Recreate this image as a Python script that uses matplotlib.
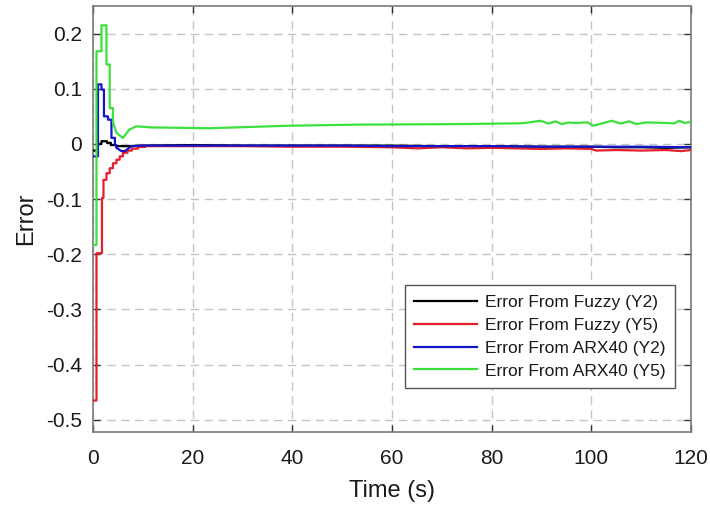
import matplotlib
matplotlib.use("Agg")
import matplotlib.pyplot as plt

plt.rcParams['font.family'] = ['Liberation Sans', 'DejaVu Sans']
plt.rcParams['axes.unicode_minus'] = False

# Error traces; repeated time stamps mark the sampled (stepwise) transitions
t_fuzzy_y2 = [0, 0.9, 0.9, 1.7, 1.7, 2.8, 2.8, 3.6, 3.6, 4.6, 4.6, 7, 10, 20, 30, 40,
              50, 60, 70, 80, 90, 100, 105, 110, 115, 120]
e_fuzzy_y2 = [-0.012, -0.012, 0.0, 0.0, 0.005, 0.005, 0.002, 0.002, -0.002, -0.002,
              -0.004, -0.004, -0.003, -0.002, -0.003, -0.003, -0.003, -0.003, -0.004,
              -0.004, -0.005, -0.005, -0.006, -0.006, -0.007, -0.006]

t_fuzzy_y5 = [0, 0.7, 0.7, 1.8, 1.8, 2.1, 2.1, 2.7, 2.7, 3.35, 3.35, 4.0, 4.0, 4.7, 4.7,
              5.35, 5.35, 6.0, 6.0, 6.9, 6.9, 7.8, 7.8, 9.0, 9.0, 10.4, 10.4, 20, 30, 40,
              50, 60, 65, 70, 75, 80, 85, 90, 95, 100, 101, 105, 110, 115, 118, 120]
e_fuzzy_y5 = [-0.465, -0.465, -0.198, -0.198, -0.098, -0.098, -0.065, -0.065, -0.053,
              -0.053, -0.044, -0.044, -0.035, -0.035, -0.0285, -0.0285, -0.0225, -0.0225,
              -0.016, -0.016, -0.012, -0.012, -0.0085, -0.0085, -0.0055, -0.0055, -0.004,
              -0.004, -0.004, -0.005, -0.005, -0.006, -0.008, -0.006, -0.008, -0.007,
              -0.008, -0.009, -0.008, -0.009, -0.012, -0.011, -0.012, -0.011, -0.013,
              -0.011]

t_arx_y2 = [0, 1.0, 1.0, 1.7, 1.7, 2.2, 2.2, 3.0, 3.0, 3.7, 3.7, 4.4, 4.4, 4.7, 4.7,
            5.7, 6.4, 7.7, 10, 20, 30, 40, 50, 60, 70, 80, 90, 100, 110, 120]
e_arx_y2 = [-0.0225, -0.0225, 0.108, 0.108, 0.0985, 0.0985, 0.050, 0.050, 0.044, 0.044,
            0.011, 0.011, -0.002, -0.002, -0.007, -0.013, -0.013, -0.004, -0.003,
            -0.003, -0.003, -0.003, -0.003, -0.004, -0.004, -0.004, -0.005, -0.005,
            -0.005, -0.006]

t_arx_y5 = [0, 0.7, 0.7, 1.7, 1.7, 2.7, 2.7, 3.35, 3.35, 4.0, 4.0, 4.7, 6.0, 7.3, 8.7,
            11.6, 23.3, 39.2, 53, 73.7, 86.2, 89.8, 91.4, 92.8, 94.1, 95.5, 96.5, 99.3,
            100.4, 104.1, 105.9, 107.6, 109, 111, 115.2, 116.6, 117.6, 118.7, 120]
e_arx_y5 = [-0.183, -0.183, 0.168, 0.168, 0.215, 0.215, 0.144, 0.144, 0.065, 0.065,
            0.040, 0.020, 0.011, 0.026, 0.032, 0.030, 0.0285, 0.033, 0.035, 0.036,
            0.0375, 0.042, 0.037, 0.041, 0.036, 0.039, 0.038, 0.039, 0.033, 0.042,
            0.037, 0.041, 0.036, 0.039, 0.038, 0.037, 0.042, 0.038, 0.040]

series = [
    (t_fuzzy_y2, e_fuzzy_y2, '#000000', 'Error From Fuzzy (Y2)'),
    (t_fuzzy_y5, e_fuzzy_y5, '#e3202c', 'Error From Fuzzy (Y5)'),
    (t_arx_y2, e_arx_y2, '#1414c8', 'Error From ARX40 (Y2)'),
    (t_arx_y5, e_arx_y5, '#3ce03c', 'Error From ARX40 (Y5)'),
]

x_ticks = [0, 20, 40, 60, 80, 100, 120]
y_ticks = [0.2, 0.1, 0, -0.1, -0.2, -0.3, -0.4, -0.5]
y_tick_labels = ['0.2', '0.1', '0', '-0.1', '-0.2', '-0.3', '-0.4', '-0.5']

fig = plt.figure(figsize=(7.1, 5.08), dpi=100)
ax = fig.add_axes([93 / 710, 1 - 432 / 508, 598 / 710, 426 / 508])

for t, e, c, lab in series:
    ax.plot(t, e, color=c, lw=1.6, label=lab, zorder=3)

ax.set_xlim(0, 120)
ax.set_ylim(-0.522, 0.25)
ax.set_xticks(x_ticks)
ax.set_xticklabels([str(v) for v in x_ticks])
ax.set_yticks(y_ticks)
ax.set_yticklabels(y_tick_labels)

ax.grid(True, color='#c4c4c4', linestyle=(0, (6, 4)), linewidth=1.0, zorder=0)
ax.set_axisbelow(True)
for s in ax.spines.values():
    s.set_color('#7a7a7a')
    s.set_linewidth(1.2)
ax.tick_params(direction='in', length=5, width=1.0, color='#333333',
               top=True, right=True, labelsize=15, labelcolor='#1a1a1a', pad=8)
ax.tick_params(axis='x', pad=12)

ax.set_xlabel('Time (s)', fontsize=17, color='#1a1a1a', labelpad=9)
ax.set_ylabel('Error', fontsize=17, color='#1a1a1a', labelpad=6)

leg = ax.legend(loc='lower right', bbox_to_anchor=(0.973, 0.103), fontsize=12.5,
                frameon=True, fancybox=False, shadow=False, framealpha=1,
                edgecolor='#555555', handlelength=3.6, handletextpad=0.45,
                labelspacing=0.45, borderpad=0.55, borderaxespad=0)
leg.get_frame().set_linewidth(1.0)
for txt in leg.get_texts():
    txt.set_color('#1a1a1a')

fig.savefig('out.png', dpi=100, facecolor='white')
